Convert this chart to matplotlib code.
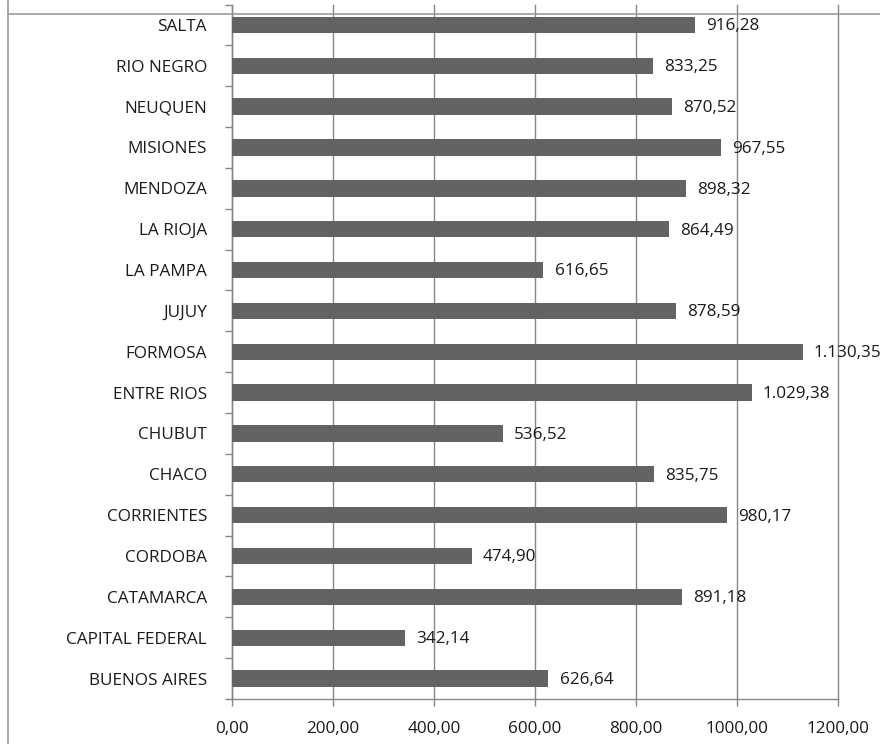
import matplotlib.pyplot as plt
from matplotlib.lines import Line2D
from matplotlib.ticker import FixedLocator, NullFormatter

plt.rcParams['font.family'] = ['Open Sans', 'DejaVu Sans']

# provincias, de abajo hacia arriba
provincias = ["BUENOS AIRES", "CAPITAL FEDERAL", "CATAMARCA", "CORDOBA", "CORRIENTES",
              "CHACO", "CHUBUT", "ENTRE RIOS", "FORMOSA", "JUJUY", "LA PAMPA",
              "LA RIOJA", "MENDOZA", "MISIONES", "NEUQUEN", "RIO NEGRO", "SALTA"]
valores = [626.64, 342.14, 891.18, 474.90, 980.17, 835.75, 536.52, 1029.38, 1130.35,
           878.59, 616.65, 864.49, 898.32, 967.55, 870.52, 833.25, 916.28]
ticks_x = [0, 200, 400, 600, 800, 1000, 1200]


def fmt_es(v):
    # formato con punto de miles y coma decimal
    s = f"{v:,.2f}"
    return s.replace(",", "X").replace(".", ",").replace("X", ".")


fs = 12.3
fig = plt.figure(figsize=(8.8, 7.44), dpi=100)
ax = fig.add_axes([232 / 880, 1 - 699 / 744, 606 / 880, 694.5 / 744])

gris = '#868686'
ypos = list(range(len(provincias)))
ax.barh(ypos, valores, height=0.4, color='#636363', zorder=3)

for y, v in zip(ypos, valores):
    ax.annotate(fmt_es(v), (v, y), xytext=(8, -1), textcoords='offset points',
                ha='left', va='center', fontsize=fs, color='#1a1a1a',
                annotation_clip=False, zorder=4)

ax.set_xlim(0, 1200)
ax.set_ylim(-0.5, len(provincias) - 0.5)

ax.set_xticks(ticks_x)
ax.set_xticklabels([f"{t},00" for t in ticks_x], fontsize=fs, color='#1a1a1a')
ax.set_yticks(ypos)
ax.set_yticklabels(provincias, fontsize=fs, color='#1a1a1a')
ax.yaxis.set_minor_locator(FixedLocator([i - 0.5 for i in range(len(provincias) + 1)]))
ax.yaxis.set_minor_formatter(NullFormatter())

ax.tick_params(axis='y', which='major', length=0, pad=18)
ax.tick_params(axis='y', which='minor', length=5, width=1, color=gris, direction='out')
ax.tick_params(axis='x', length=5, width=1, color=gris, direction='out', pad=11)

ax.grid(axis='x', color=gris, linewidth=1, zorder=0)
for g in ax.get_xgridlines():
    g.set_clip_on(False)
for lado in ['top', 'right']:
    ax.spines[lado].set_visible(False)
for lado in ['left', 'bottom']:
    ax.spines[lado].set_color(gris)
    ax.spines[lado].set_linewidth(1)

# bordes de celda de la hoja
fig.add_artist(Line2D([8 / 880, 1], [1 - 14 / 744, 1 - 14 / 744], color='#9a9a9a', linewidth=1.2))
fig.add_artist(Line2D([8 / 880, 8 / 880], [0, 1], color='#9a9a9a', linewidth=1.2))

fig.savefig('out.png', dpi=100)
